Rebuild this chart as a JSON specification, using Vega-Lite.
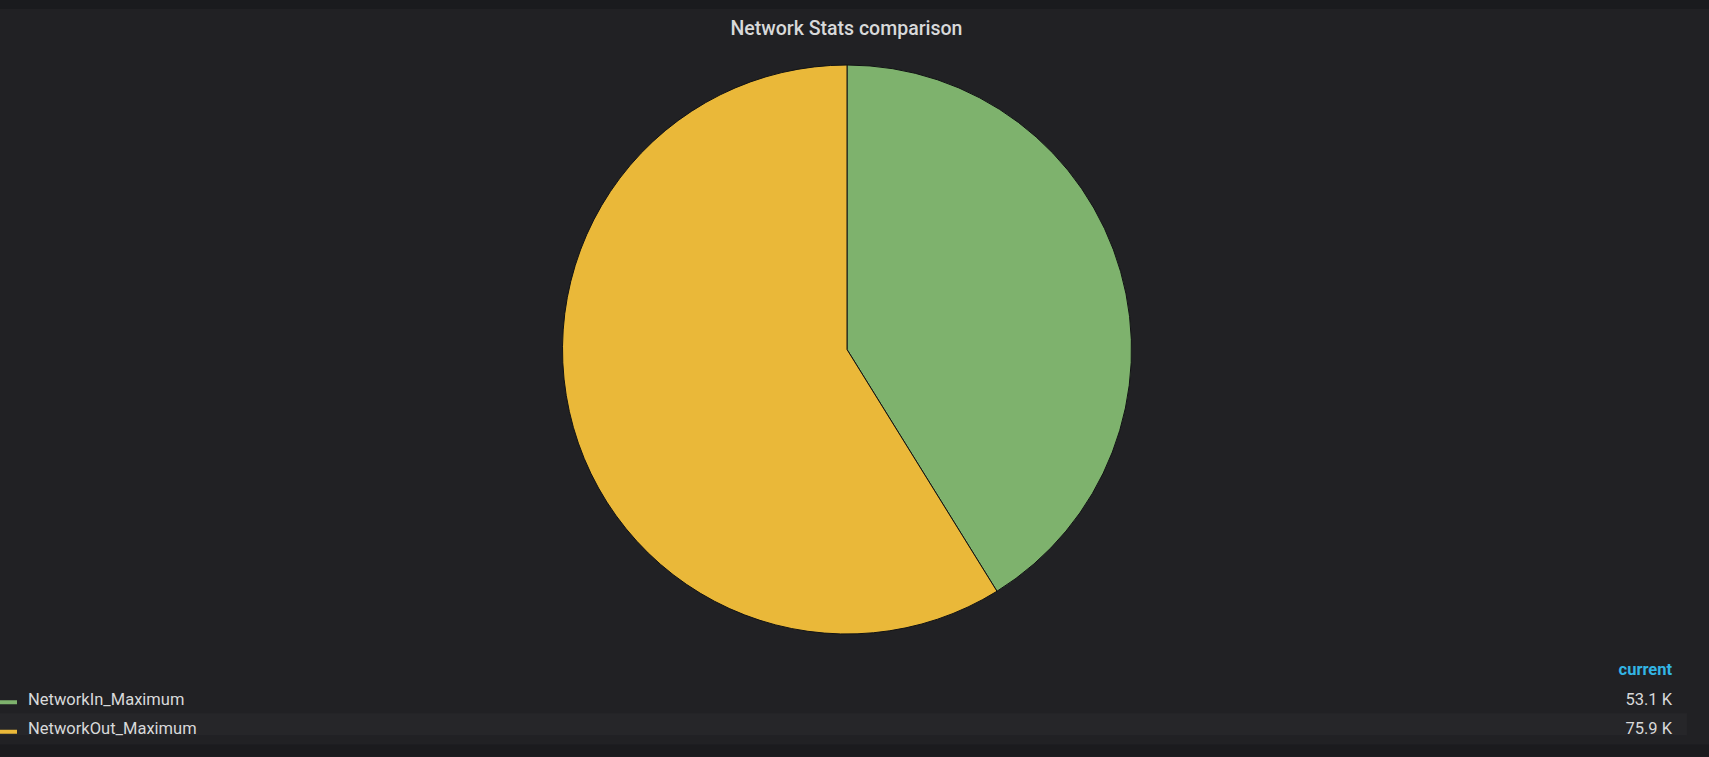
{
  "$schema": "https://vega.github.io/schema/vega-lite/v6.json",
  "background": "#212124",
  "padding": 0,
  "autosize": {"type": "pad"},
  "config": {"view": {"stroke": null}, "font": "Roboto", "text": {"font": "Roboto"}},
  "datasets": {
    "stats": [
      {"series": "NetworkIn_Maximum", "value": 53100, "current": "53.1 K"},
      {"series": "NetworkOut_Maximum", "value": 75900, "current": "75.9 K"}
    ]
  },
  "spacing": 5.5,
  "vconcat": [
    {
      "width": 1709,
      "height": 9,
      "view": {"fill": "#1a1b1e", "stroke": null},
      "title": {
        "text": "Network Stats comparison",
        "orient": "bottom",
        "anchor": "middle",
        "baseline": "top",
        "offset": 10.5,
        "dx": -8,
        "fontSize": 19.5,
        "fontWeight": 500,
        "font": "Roboto",
        "color": "#d8d9da"
      },
      "data": {"values": []},
      "mark": {"type": "text", "text": ""}
    },
    {
      "spacing": 0,
      "vconcat": [
        {
          "width": 1694,
          "height": 612,
          "data": {"name": "stats"},
          "mark": {"type": "arc", "outerRadius": 284.5, "stroke": "#111214", "strokeWidth": 1},
          "encoding": {
            "theta": {"field": "value", "type": "quantitative", "stack": true},
            "color": {
              "field": "series",
              "type": "nominal",
              "scale": {"domain": ["NetworkIn_Maximum", "NetworkOut_Maximum"], "range": ["#7eb26d", "#eab839"]},
              "legend": null
            },
            "order": {"field": "series", "sort": "ascending"}
          }
        },
        {
          "width": 1709,
          "height": 88.5,
          "data": {"name": "stats"},
          "encoding": {
            "y": {
              "field": "series",
              "type": "nominal",
              "scale": {"domain": ["header", "NetworkIn_Maximum", "NetworkOut_Maximum"], "paddingInner": 0, "paddingOuter": 0},
              "axis": null
            }
          },
          "layer": [
            {
              "transform": [{"filter": "datum.series === 'NetworkOut_Maximum'"}],
              "mark": {"type": "bar", "height": 22, "yOffset": -5, "color": "#262629"},
              "encoding": {
                "x": {"datum": 0, "type": "quantitative", "scale": {"domain": [0, 1], "nice": false, "zero": false}, "axis": null},
                "x2": {"datum": 0.9871}
              }
            },
            {
              "mark": {"type": "bar", "height": 4, "yOffset": 2.5},
              "encoding": {
                "x": {"datum": 0, "type": "quantitative"},
                "x2": {"datum": 0.00995},
                "color": {
                  "field": "series",
                  "type": "nominal",
                  "scale": {"domain": ["NetworkIn_Maximum", "NetworkOut_Maximum"], "range": ["#7eb26d", "#eab839"]},
                  "legend": null
                }
              }
            },
            {
              "mark": {"type": "text", "align": "left", "baseline": "middle", "fontSize": 16.5, "color": "#d8d9da", "font": "Roboto"},
              "encoding": {
                "x": {"datum": 0.0164, "type": "quantitative"},
                "text": {"field": "series"}
              }
            },
            {
              "mark": {"type": "text", "align": "right", "baseline": "middle", "fontSize": 16.5, "color": "#d8d9da", "font": "Roboto"},
              "encoding": {
                "x": {"datum": 0.9784, "type": "quantitative"},
                "text": {"field": "current"}
              }
            },
            {
              "data": {"values": [{"series": "header", "label": "current"}]},
              "mark": {"type": "text", "align": "right", "baseline": "middle", "fontSize": 16.5, "fontWeight": "bold", "color": "#33b5e5", "font": "Roboto"},
              "encoding": {
                "x": {"datum": 0.9784, "type": "quantitative"},
                "text": {"field": "label"}
              }
            }
          ]
        },
        {
          "width": 1709,
          "height": 12,
          "view": {"fill": "#1b1b1e", "stroke": null},
          "data": {"values": []},
          "mark": {"type": "text", "text": ""}
        }
      ]
    }
  ]
}
